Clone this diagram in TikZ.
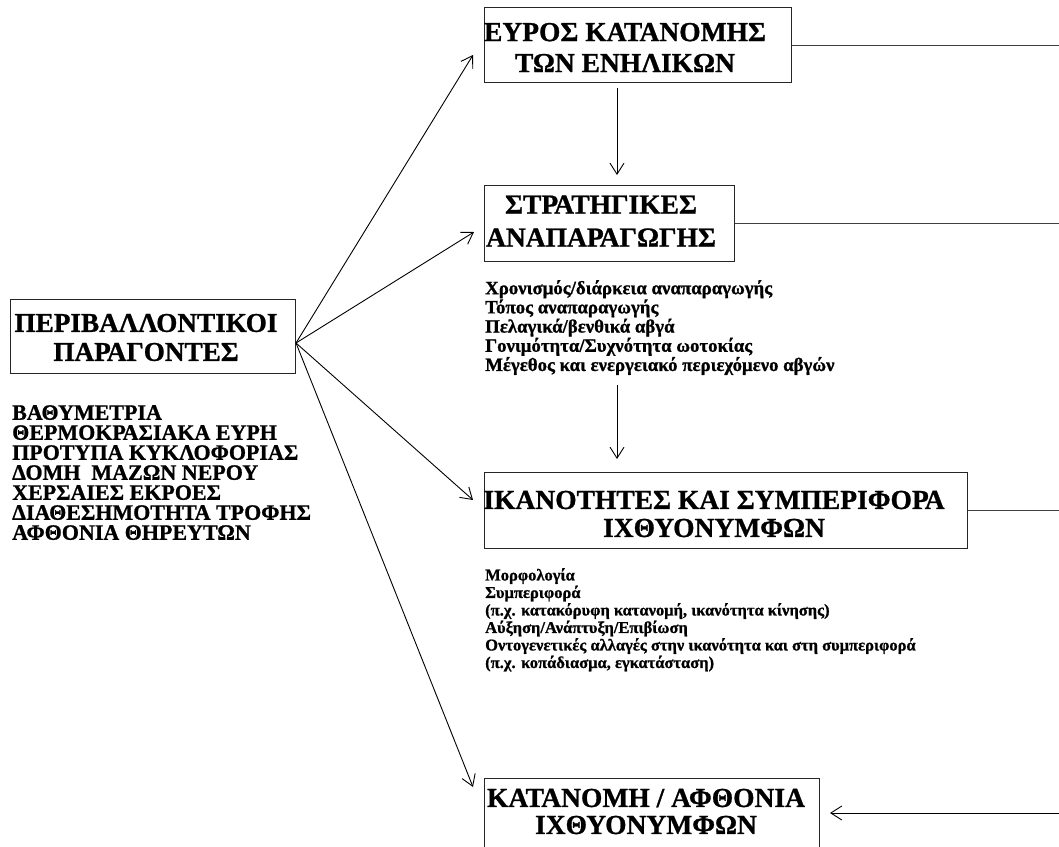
\documentclass[tikz,border=0pt]{standalone}
\usepackage{fontspec}
\setmainfont[BoldFeatures={FakeBold=0.9}]{Liberation Serif}
\usetikzlibrary{arrows.meta}

\begin{document}
\begin{tikzpicture}[x=1pt,y=-1pt,
  box/.style={draw=black!85, line width=1pt, inner sep=0pt, anchor=north west},
  title/.style={font=\fontsize{27.5}{31}\selectfont\bfseries, align=center, inner sep=0pt},
  factors/.style={font=\fontsize{22}{20}\selectfont\bfseries, align=left, anchor=north west, inner sep=0pt},
  notes/.style={font=\fontsize{18.8}{19.2}\selectfont\bfseries, align=left, anchor=north west, inner sep=0pt},
  link/.style={line width=0.9pt, -{Straight Barb[length=11pt,width=14pt]}},
  rule/.style={line width=1pt, draw=black!75}]

\clip (0,0) rectangle (1059,846);

% frames
\node[box, minimum width=285, minimum height=74] (env) at (10,299) {};
\node[box, minimum width=307, minimum height=75] (b1) at (484,7) {};
\node[box, minimum width=250, minimum height=76] (b2) at (484,185) {};
\node[box, minimum width=483, minimum height=76] (b3) at (484,472) {};
\node[box, minimum width=335, minimum height=76] (b4) at (484,778) {};

% titles
\node[title, font=\fontsize{27.2}{29}\selectfont\bfseries] (envt) at (146,337.5) {ΠΕΡΙΒΑΛΛΟΝΤΙΚΟΙ\\ΠΑΡΑΓΟΝΤΕΣ};
\node[title] (b1t) at (625,47.5) {ΕΥΡΟΣ ΚΑΤΑΝΟΜΗΣ\\ΤΩΝ ΕΝΗΛΙΚΩΝ};
\node[title, font=\fontsize{27.5}{33}\selectfont\bfseries] (b2t) at (601,221) {ΣΤΡΑΤΗΓΙΚΕΣ\\ΑΝΑΠΑΡΑΓΩΓΗΣ};
\node[title, font=\fontsize{27.5}{28}\selectfont\bfseries] (b3t) at (714,514) {ΙΚΑΝΟΤΗΤΕΣ ΚΑΙ ΣΥΜΠΕΡΙΦΟΡΑ\\ΙΧΘΥΟΝΥΜΦΩΝ};
\node[title, font=\fontsize{27.5}{27}\selectfont\bfseries] (b4t) at (646,811.5) {ΚΑΤΑΝΟΜΗ / ΑΦΘΟΝΙΑ\\ΙΧΘΥΟΝΥΜΦΩΝ};

% lists
\node[factors] (envl) at (12,405) {ΒΑΘΥΜΕΤΡΙΑ\\ΘΕΡΜΟΚΡΑΣΙΑΚΑ ΕΥΡΗ\\ΠΡΟΤΥΠΑ ΚΥΚΛΟΦΟΡΙΑΣ\\ΔΟΜΗ\ \ ΜΑΖΩΝ ΝΕΡΟΥ\\ΧΕΡΣΑΙΕΣ ΕΚΡΟΕΣ\\ΔΙΑΘΕΣΗΜΟΤΗΤΑ ΤΡΟΦΗΣ\\ΑΦΘΟΝΙΑ ΘΗΡΕΥΤΩΝ};
\node[notes] (b2l) at (485,280) {Χρονισμός/διάρκεια αναπαραγωγής\\Τόπος αναπαραγωγής\\Πελαγικά/βενθικά αβγά\\Γονιμότητα/Συχνότητα ωοτοκίας\\Μέγεθος και ενεργειακό περιεχόμενο αβγών};
\node[notes, font=\fontsize{16.5}{17.5}\selectfont\bfseries] (b3l) at (485,568) {Μορφολογία\\Συμπεριφορά\\(π.χ. κατακόρυφη κατανομή, ικανότητα κίνησης)\\Αύξηση/Ανάπτυξη/Επιβίωση\\Οντογενετικές αλλαγές στην ικανότητα και στη συμπεριφορά\\(π.χ. κοπάδιασμα, εγκατάσταση)};

% connector end points
\coordinate (src) at (296,343);
\coordinate (e1) at (473,55);
\coordinate (e2) at (474,232);
\coordinate (e3) at (473,500);
\coordinate (e4) at (473,787);
\coordinate (v1s) at (617,88);
\coordinate (v1e) at (617,175);
\coordinate (v2s) at (617,385);
\coordinate (v2e) at (617,459);
\coordinate (edge) at (1059,0);
\coordinate (r4) at (1059,813);
\coordinate (e5) at (830,813);

% connectors
\draw[link] (src) -- (e1);
\draw[link] (src) -- (e2);
\draw[link] (src) -- (e3);
\draw[link] (src) -- (e4);
\draw[link] (v1s) -- (v1e);
\draw[link] (v2s) -- (v2e);
\draw[rule] (b1.east) -- (b1.east -| edge);
\draw[rule] (b2.east) -- (b2.east -| edge);
\draw[rule] (b3.east) -- (b3.east -| edge);
\draw[link] (r4) -- (e5);
\end{tikzpicture}
\end{document}
